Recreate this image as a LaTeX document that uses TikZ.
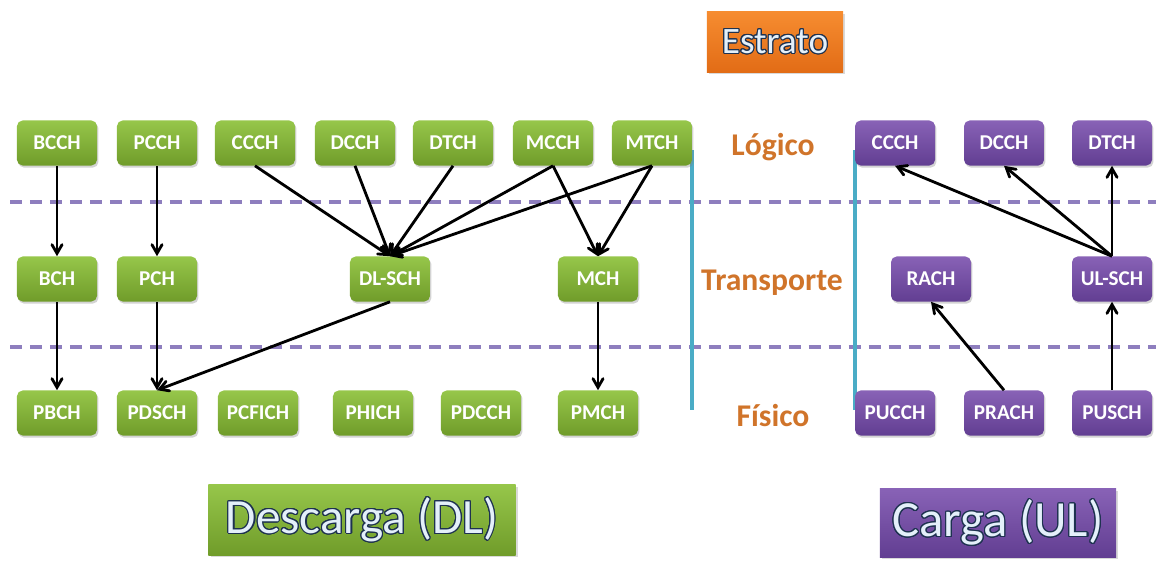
\documentclass[tikz,border=0pt]{standalone}
\usepackage{fontspec}
\setmainfont{Carlito}
\usepackage{tikz}
\usepackage[copies]{contour}
\usetikzlibrary{shapes,arrows,shadows}

\definecolor{dltop}{RGB}{150,198,74}
\definecolor{dlbot}{RGB}{112,156,42}
\definecolor{ultop}{RGB}{136,98,182}
\definecolor{ulbot}{RGB}{98,62,146}
\definecolor{ortop}{RGB}{246,140,48}
\definecolor{orbot}{RGB}{226,108,22}
\definecolor{lblorange}{RGB}{208,116,42}
\definecolor{sepviolet}{RGB}{142,126,190}
\definecolor{sepblue}{RGB}{74,172,198}
\definecolor{titletext}{RGB}{228,240,250}
\definecolor{titleline}{RGB}{30,50,80}

\tikzset{
  chan/.style={rectangle, rounded corners=4pt, minimum width=2cm, minimum height=1.125cm,
    text=white, font=\bfseries\fontsize{15}{15}\selectfont,
    drop shadow={opacity=0.35, shadow xshift=1pt, shadow yshift=-1.5pt}},
  dlchan/.style={chan, top color=dltop, bottom color=dlbot},
  ulchan/.style={chan, top color=ultop, bottom color=ulbot},
  layer/.style={text=lblorange, font=\bfseries\fontsize{22.5}{22.5}\selectfont},
  title/.style={rectangle, text=titletext, drop shadow={opacity=0.3, shadow xshift=1.5pt, shadow yshift=-1.5pt}},
  link/.style={->, >=angle 60, line width=2pt},
  sep/.style={draw=sepviolet, line width=2.3pt, dash pattern=on 8.5pt off 5.7pt},
  wall/.style={draw=sepblue, line width=2.2pt}
}

\contourlength{0.8pt}

\begin{document}
\begin{tikzpicture}[x=0.025cm, y=-0.025cm]

    \useasboundingbox (0,0) rectangle (1156,565);

    % separators
    \draw [sep] (10,202) -- (1156,202);
    \draw [sep] (10,347) -- (1156,347);
    \draw [wall] (692,150) -- (692,410);
    \draw [wall] (855,150) -- (855,410);

    % header
    \node [title, top color=ortop, bottom color=orbot, minimum width=3.4cm, minimum height=1.5cm,
      font=\fontsize{26.5}{26.5}\selectfont] (estrato) at (775,42) {\contour{titleline}{Estrato}};

    % level labels
    \node [layer] (logico) at (773,147) {Lógico};
    \node [layer] (transporte) at (772,283) {Transporte};
    \node [layer] (fisico) at (773,416) {Físico};

    % downlink: logical
    \node [dlchan] (bcch) at (57,143) {BCCH};
    \node [dlchan] (pcch) at (157,143) {PCCH};
    \node [dlchan] (ccch) at (255,143) {CCCH};
    \node [dlchan] (dcch) at (355,143) {DCCH};
    \node [dlchan] (dtch) at (453,143) {DTCH};
    \node [dlchan] (mcch) at (553,143) {MCCH};
    \node [dlchan] (mtch) at (652,143) {MTCH};

    % downlink: transport
    \node [dlchan] (bch) at (57,279) {BCH};
    \node [dlchan] (pch) at (157,279) {PCH};
    \node [dlchan] (dlsch) at (390,279) {DL-SCH};
    \node [dlchan] (mch) at (598,279) {MCH};

    % downlink: physical
    \node [dlchan] (pbch) at (57,413) {PBCH};
    \node [dlchan] (pdsch) at (157,413) {PDSCH};
    \node [dlchan] (pcfich) at (258,413) {PCFICH};
    \node [dlchan] (phich) at (373,413) {PHICH};
    \node [dlchan] (pdcch) at (481,413) {PDCCH};
    \node [dlchan] (pmch) at (598,413) {PMCH};

    % uplink
    \node [ulchan] (ulccch) at (895,143) {CCCH};
    \node [ulchan] (uldcch) at (1004,143) {DCCH};
    \node [ulchan] (uldtch) at (1112,143) {DTCH};
    \node [ulchan] (rach) at (931,279) {RACH};
    \node [ulchan] (ulsch) at (1112,279) {UL-SCH};
    \node [ulchan] (pucch) at (895,413) {PUCCH};
    \node [ulchan] (prach) at (1004,413) {PRACH};
    \node [ulchan] (pusch) at (1112,413) {PUSCH};

    % footers
    \node [title, top color=dltop, bottom color=dlbot, minimum width=7.675cm, minimum height=1.75cm,
      font=\fontsize{35}{35}\selectfont] (descarga) at (362,520) {\contour{titleline}{Descarga (DL)}};
    \node [title, top color=ultop, bottom color=ulbot, minimum width=5.9cm, minimum height=1.7cm,
      font=\fontsize{36}{36}\selectfont] (carga) at (998,523) {\contour{titleline}{Carga (UL)}};

    \draw [link] (bcch) -- (bch);
    \draw [link] (pcch) -- (pch);
    \draw [link] (ccch.south) -- (dlsch.north);
    \draw [link] (dcch.south) -- (dlsch.north);
    \draw [link] (dtch.south) -- (dlsch.north);
    \draw [link] (mcch.south) -- (dlsch.north);
    \draw [link] (mtch.south) -- (dlsch.north);
    \draw [link] (mcch.south) -- (mch.north);
    \draw [link] (mtch.south) -- (mch.north);
    \draw [link] (bch) -- (pbch);
    \draw [link] (pch) -- (pdsch);
    \draw [link] (dlsch.south) -- (pdsch.north);
    \draw [link] (mch) -- (pmch);
    \draw [link] (ulsch.north) -- (ulccch.south);
    \draw [link] (ulsch.north) -- (uldcch.south);
    \draw [link] (ulsch) -- (uldtch);
    \draw [link] (prach.north) -- (rach.south);
    \draw [link] (pusch) -- (ulsch);

  \end{tikzpicture}
\end{document}
